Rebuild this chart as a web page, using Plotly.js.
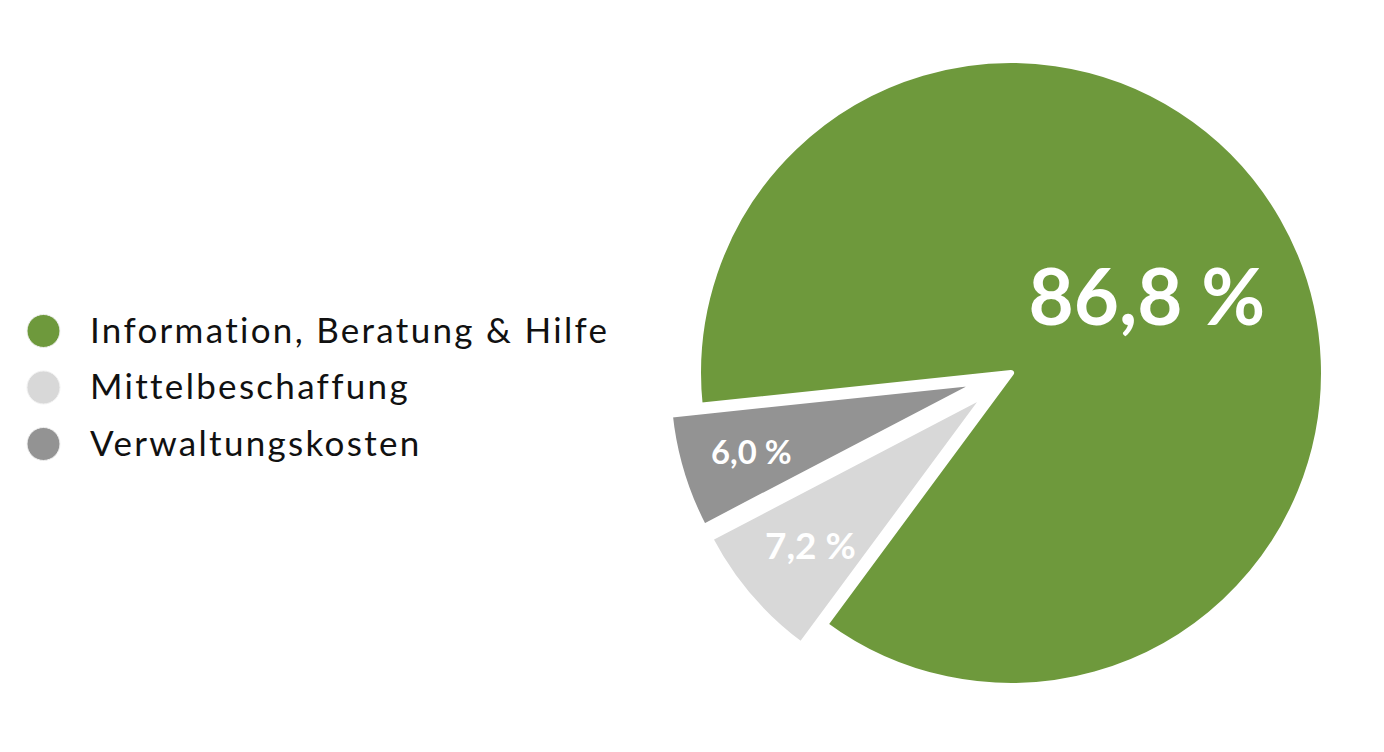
<!DOCTYPE html>
<html>
<head>
<meta charset="utf-8">
<script src="https://cdn.plot.ly/plotly-3.0.1.min.js"></script>
<style>
html,body{margin:0;padding:0;background:#fff;}
#chart{width:1384px;height:752px;}
#chart .scatterlayer .textpoint text{letter-spacing:2.3px;font-variant-ligatures:none;}
#chart .slicetext text{font-variant-ligatures:none;}
</style>
</head>
<body>
<div id="chart"></div>
<script>
// Data
var categories = ['Information, Beratung & Hilfe', 'Mittelbeschaffung', 'Verwaltungskosten'];
var shares = [86.8, 7.2, 6.0];
var shareLabels = ['86,8 %', '7,2 %', '6,0 %'];
var sliceColors = ['#6e993c', '#d8d8d8', '#939393'];
var pulls = [0, 0.1, 0.1];
var legendRows = [0, 1, 2];

var FONT = 'Lato, "Open Sans", sans-serif';

// main pie: slices + label of the big slice
var pie = {
  type: 'pie',
  labels: categories,
  values: shares,
  text: shareLabels,
  textinfo: 'text',
  textposition: ['inside', 'none', 'none'],
  insidetextorientation: 'horizontal',
  sort: false,
  direction: 'clockwise',
  rotation: 264,
  pull: pulls,
  marker: {colors: sliceColors, line: {color: '#ffffff', width: 6}},
  textfont: {family: FONT, color: '#ffffff', size: 78, weight: 700},
  domain: {x: [0.4817, 0.9793], y: [0.0462, 0.9618]},
  hoverinfo: 'label+text',
  showlegend: false
};

// transparent companion pie (same centre and same pull offset) carrying the labels of the small slices
var pieLabels = {
  type: 'pie',
  labels: categories,
  values: shares,
  text: shareLabels,
  textinfo: 'text',
  textposition: ['none', 'inside', 'inside'],
  insidetextorientation: 'horizontal',
  sort: false,
  direction: 'clockwise',
  rotation: 264,
  pull: pulls.map(function(p){return p * 1.1;}),
  marker: {colors: ['rgba(0,0,0,0)', 'rgba(0,0,0,0)', 'rgba(0,0,0,0)'], line: {width: 0}},
  textfont: {family: FONT, color: '#ffffff', size: 37, weight: 700},
  domain: {x: [0.5020, 0.9590], y: [0.0834, 0.9246]},
  hoverinfo: 'skip',
  showlegend: false
};

var legendMarkers = {
  type: 'scatter',
  mode: 'markers',
  x: legendRows.map(function(){return 0;}),
  y: legendRows,
  marker: {size: 33, color: sliceColors, line: {color: '#f2f2f2', width: 1}},
  hoverinfo: 'skip',
  showlegend: false
};

var legendText = {
  type: 'scatter',
  mode: 'text',
  x: legendRows.map(function(){return 1.07;}),
  y: legendRows,
  yaxis: 'y2',
  text: categories,
  textposition: 'middle right',
  textfont: {family: FONT, size: 35, color: '#111111'},
  hoverinfo: 'skip',
  showlegend: false
};

var layout = {
  width: 1384,
  height: 752,
  margin: {l: 0, r: 0, t: 0, b: 0},
  paper_bgcolor: '#ffffff',
  plot_bgcolor: 'rgba(0,0,0,0)',
  showlegend: false,
  xaxis: {visible: false, domain: [0, 0.45], range: [-1, 13.32], fixedrange: true},
  yaxis: {visible: false, domain: [0, 1], range: [7.452, -5.858], fixedrange: true},
  yaxis2: {visible: false, overlaying: 'y', range: [7.399, -5.911], fixedrange: true}
};

Plotly.newPlot('chart', [pie, pieLabels, legendMarkers, legendText], layout, {displayModeBar: false, staticPlot: true});
</script>
</body>
</html>
